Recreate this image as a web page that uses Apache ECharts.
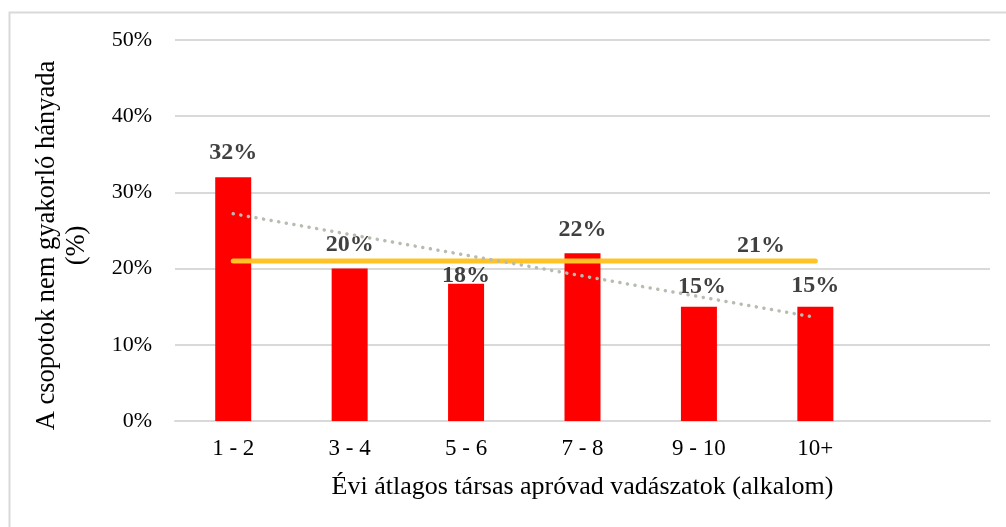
<!DOCTYPE html>
<html>
<head>
<meta charset="utf-8">
<script src="https://cdn.jsdelivr.net/npm/echarts@6/dist/echarts.min.js"></script>
<style>
html,body{margin:0;padding:0;background:#fff;}
#chart{width:1006px;height:527px;}
</style>
</head>
<body>
<div id="chart"></div>
<script>
const categories = ['1 - 2', '3 - 4', '5 - 6', '7 - 8', '9 - 10', '10+', ''];
const values = [32, 20, 18, 22, 15, 15];
const averageValues = [21, 21, 21, 21, 21, 21];
const trendCategories = ['1 - 2', '10+'];
const trendValues = [27.2, 13.6];
const yAxisMin = 0, yAxisMax = 50, yAxisStep = 10;
const xAxisTitle = 'Évi átlagos társas apróvad vadászatok (alkalom)';
const yAxisTitle = 'A csopotok nem gyakorló hányada\n(%)';

const FONT = "'Liberation Serif', 'Times New Roman', serif";
// per-label nudges (style only)
const labelNudges = {2: [0, 16], 4: [3, 4], 5: [0, 3]};

const barData = values.map((v, i) => {
  const d = {value: v};
  if (labelNudges[i]) d.label = {offset: labelNudges[i]};
  return d;
});
const avgData = averageValues.map((v, i) => {
  if (i === averageValues.length - 2) {
    return {value: v, label: {show: true, position: 'top', distance: 3, offset: [62, 0], formatter: '{c}%'}};
  }
  return {value: v};
});

const chart = echarts.init(document.getElementById('chart'));
chart.setOption({
  animation: false,
  backgroundColor: '#fff',
  graphic: [{
    type: 'rect', left: 7, top: 10, silent: true,
    shape: {width: 1100, height: 700},
    style: {fill: 'none', stroke: '#D9D9D9', lineWidth: 2}
  }],
  grid: {left: 175, right: 16, top: 40, bottom: 106, containLabel: false},
  xAxis: {
    type: 'category',
    data: categories,
    axisLine: {show: true, lineStyle: {color: '#D9D9D9', width: 2}},
    axisTick: {show: false},
    axisLabel: {color: '#000', fontFamily: FONT, fontSize: 23, margin: 16, interval: 0},
    name: xAxisTitle,
    nameLocation: 'middle',
    nameGap: 53,
    nameTextStyle: {color: '#000', fontFamily: FONT, fontSize: 26}
  },
  yAxis: {
    type: 'value',
    min: yAxisMin, max: yAxisMax, interval: yAxisStep,
    axisLine: {show: false},
    axisTick: {show: false},
    splitLine: {lineStyle: {color: '#D9D9D9', width: 2}},
    axisLabel: {color: '#000', fontFamily: FONT, fontSize: 22, margin: 23, formatter: '{value}%'},
    name: yAxisTitle,
    nameLocation: 'middle',
    nameGap: 83,
    nameRotate: 90,
    nameTextStyle: {color: '#000', fontFamily: FONT, fontSize: 26.5, lineHeight: 30, align: 'center', padding: [0, 30, 0, 0]}
  },
  series: [
    {
      type: 'bar',
      data: barData,
      barWidth: 36,
      itemStyle: {color: '#FF0000'},
      label: {
        show: true, position: 'top', distance: 12,
        formatter: '{c}%',
        color: '#404040', fontFamily: FONT, fontWeight: 'bold', fontSize: 24
      },
      z: 2
    },
    {
      type: 'line',
      data: avgData,
      symbol: 'circle',
      symbolSize: 1,
      itemStyle: {color: '#FFC327'},
      lineStyle: {color: '#FFC327', width: 5, cap: 'round'},
      label: {show: false, color: '#404040', fontFamily: FONT, fontWeight: 'bold', fontSize: 24},
      z: 4
    },
    {
      type: 'line',
      data: trendCategories.map((c, i) => [c, trendValues[i]]),
      symbol: 'none',
      lineStyle: {color: '#B6BDB0', width: 3.5, type: [0.1, 7.6], cap: 'round'},
      z: 5
    }
  ]
});
</script>
</body>
</html>
